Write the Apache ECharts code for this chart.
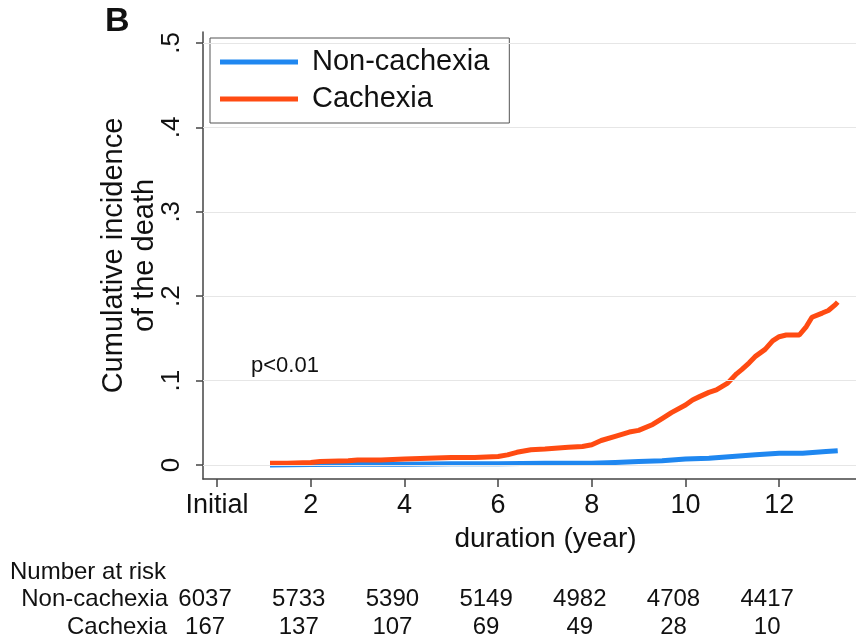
<!DOCTYPE html>
<html><head><meta charset="utf-8">
<script src="https://cdn.jsdelivr.net/npm/echarts@6/dist/echarts.min.js"></script>
<style>html,body{margin:0;padding:0;background:#fff}#c{width:856px;height:641px}</style>
</head><body><div id="c"></div>
<script>
const seriesNames = ['Non-cachexia', 'Cachexia'];
const nonTime  = [1.13, 2.0, 3.0, 4.0, 5.0, 6.0, 7.0, 8.0, 8.5, 9.0, 9.5, 10.0, 10.5, 11.0, 11.5, 12.0, 12.5, 13.0, 13.25];
const nonValue = [0.000, 0.0005, 0.001, 0.001, 0.0015, 0.0015, 0.002, 0.002, 0.003, 0.004, 0.005, 0.007, 0.008, 0.010, 0.012, 0.014, 0.014, 0.016, 0.017];
const cacTime  = [1.13, 1.5, 2.0, 2.2, 2.8, 3.0, 3.5, 4.0, 4.5, 5.0, 5.5, 6.0, 6.2, 6.4, 6.7, 7.0, 7.5, 7.8, 8.0, 8.2, 8.5, 8.8, 9.0, 9.3, 9.5, 9.7, 10.0, 10.15, 10.3, 10.5, 10.66, 10.9, 11.09, 11.2, 11.36, 11.5, 11.7, 11.86, 12.0, 12.15, 12.43, 12.58, 12.7, 12.92, 13.05, 13.2, 13.25];
const cacValue = [0.002, 0.002, 0.003, 0.004, 0.005, 0.006, 0.006, 0.007, 0.008, 0.009, 0.009, 0.010, 0.012, 0.015, 0.018, 0.019, 0.021, 0.022, 0.024, 0.029, 0.034, 0.039, 0.041, 0.048, 0.055, 0.062, 0.071, 0.077, 0.081, 0.086, 0.089, 0.097, 0.108, 0.113, 0.121, 0.129, 0.137, 0.147, 0.152, 0.154, 0.154, 0.164, 0.175, 0.180, 0.183, 0.190, 0.193];
const xTicks = [0, 2, 4, 6, 8, 10, 12];
const xTickLabels = ['Initial', '2', '4', '6', '8', '10', '12'];
const yTicks = [0, 0.1, 0.2, 0.3, 0.4, 0.5];
const yTickLabels = ['0', '.1', '.2', '.3', '.4', '.5'];
const riskTimes = [0, 2, 4, 6, 8, 10, 12];
const riskNon = [6037, 5733, 5390, 5149, 4982, 4708, 4417];
const riskCac = [167, 137, 107, 69, 49, 28, 10];

const FONT = '"Liberation Sans", Arial, sans-serif';
const AX = '#444';
const colors = ['#1f87f0', '#ff4b12'];

const chart = echarts.init(document.getElementById('c'), null, {renderer: 'canvas'});
const pairs = (t, v) => t.map((x, i) => [x, v[i]]);

const option = {
  animation: false,
  backgroundColor: '#fff',
  grid: {left: 203, right: 0, top: 32, bottom: 162},
  legend: {
    data: seriesNames,
    orient: 'vertical',
    left: 210, top: 38,
    padding: [9, 20, 9, 10],
    itemGap: 7,
    itemWidth: 78, itemHeight: 5,
    icon: 'rect',
    borderColor: '#555', borderWidth: 1,
    backgroundColor: '#fff',
    textStyle: {fontSize: 29, fontFamily: FONT, color: '#111', lineHeight: 30, padding: [0, 0, 0, 9]}
  },
  xAxis: {
    type: 'value', min: -0.3, max: 13.64,
    axisLine: {show: true, onZero: false, lineStyle: {color: AX, width: 1.5}},
    axisTick: {show: true, length: 8, customValues: xTicks, lineStyle: {color: AX, width: 1.5}},
    axisLabel: {customValues: xTicks, formatter: v => xTickLabels[xTicks.indexOf(v)],
      fontSize: 27, fontFamily: FONT, color: '#111', margin: 13},
    splitLine: {show: false},
    name: 'duration (year)', nameLocation: 'middle', nameGap: 46,
    nameTextStyle: {fontSize: 28, fontFamily: FONT, color: '#111', padding: [0, 0, 0, 32]}
  },
  yAxis: {
    type: 'value', min: -0.0166, max: 0.513,
    axisLine: {show: true, onZero: false, lineStyle: {color: AX, width: 1.5}},
    axisTick: {show: true, length: 7, customValues: yTicks, lineStyle: {color: AX, width: 1.5}},
    axisLabel: {customValues: yTicks, formatter: v => yTickLabels[yTicks.findIndex(y => Math.abs(y - v) < 1e-9)],
      rotate: 90, fontSize: 26, fontFamily: FONT, color: '#111', margin: 18},
    splitLine: {show: false},
    name: 'Cumulative incidence\nof the death', nameLocation: 'middle', nameRotate: 90, nameGap: 43,
    nameMoveOverlap: false,
    nameTextStyle: {fontSize: 29, fontFamily: FONT, color: '#111', lineHeight: 31, align: 'center'}
  },
  series: [
    {
      type: 'line', name: '_grid', data: [], z: 1, silent: true,
      markLine: {
        silent: true, symbol: 'none', label: {show: false},
        lineStyle: {color: '#e6e6e6', width: 1.2, type: 'solid'},
        data: yTicks.map(v => ({yAxis: v}))
      }
    },
    {
      type: 'line', name: seriesNames[0], data: pairs(nonTime, nonValue), z: 3,
      showSymbol: false, symbol: 'none', color: colors[0],
      lineStyle: {color: colors[0], width: 5}
    },
    {
      type: 'line', name: seriesNames[1], data: pairs(cacTime, cacValue), z: 4,
      showSymbol: false, symbol: 'none', color: colors[1],
      lineStyle: {color: colors[1], width: 5}
    }
  ]
};
chart.setOption(option);

const g = [];
const txt = (text, x, y, size, align, weight) => ({
  type: 'text', x: x, y: y,
  style: {text: text, fontSize: size, fontWeight: weight || 'normal', fontFamily: FONT, fill: '#111', align: align, verticalAlign: 'middle'}
});
g.push(txt('B', 105, 22, 34, 'left', 'bold'));
g.push(txt('p<0.01', 251, 366, 22, 'left'));
g.push(txt('Number at risk', 10, 572, 24, 'left'));
g.push(txt(seriesNames[0], 168, 599, 24, 'right'));
g.push(txt(seriesNames[1], 167, 627, 24, 'right'));
riskTimes.forEach((t, i) => {
  const px = chart.convertToPixel({xAxisIndex: 0}, t) - 12;
  g.push(txt(String(riskNon[i]), px, 599, 24, 'center'));
  g.push(txt(String(riskCac[i]), px, 627, 24, 'center'));
});
chart.setOption({graphic: g});
</script>
</body></html>
